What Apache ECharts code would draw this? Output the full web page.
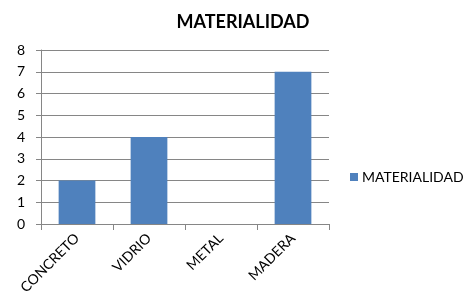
<!DOCTYPE html>
<html><head><meta charset="utf-8">
<script src="https://cdn.jsdelivr.net/npm/echarts@6/dist/echarts.min.js"></script>
<style>html,body{margin:0;padding:0;background:#fff}#c{width:474px;height:308px}</style>
</head><body><div id="c"></div>
<script>
const categories = ["CONCRETO", "VIDRIO", "METAL", "MADERA"];
const values = [2, 4, 0, 7];
const seriesName = "MATERIALIDAD";
const titleText = "MATERIALIDAD";
const yTicks = [0, 1, 2, 3, 4, 5, 6, 7, 8];

const chart = echarts.init(document.getElementById('c'), null, {renderer: 'canvas'});
const font = 'Lato';
chart.setOption({
  animation: false,
  backgroundColor: '#fff',
  title: {
    text: titleText, left: 238, top: 8, textAlign: 'center',
    textStyle: {fontFamily: font, fontWeight: 'bold', fontSize: 18, color: '#000'}
  },
  legend: {
    data: [seriesName], left: 345, top: 165, itemWidth: 8, itemHeight: 8, itemGap: 4,
    icon: 'rect',
    textStyle: {fontFamily: font, fontSize: 14, color: '#000', padding: [0,0,0,-1]}
  },
  grid: {left: 41, top: 50, width: 288, height: 174, containLabel: false},
  xAxis: {
    type: 'category', data: categories,
    axisLine: {lineStyle: {color: '#868686'}},
    axisTick: {show: true, alignWithLabel: false, length: 6, lineStyle: {color: '#868686'}},
    axisLabel: {rotate: 45, fontFamily: font, fontSize: 14, color: '#000', margin: 12, interval: 0}
  },
  yAxis: {
    type: 'value', min: yTicks[0], max: yTicks[yTicks.length - 1], interval: 1,
    axisLine: {show: true, lineStyle: {color: '#868686'}},
    axisTick: {show: true, length: 5, lineStyle: {color: '#868686'}},
    axisLabel: {fontFamily: font, fontSize: 14, color: '#000', margin: 16},
    splitLine: {lineStyle: {color: '#868686'}}
  },
  series: [{
    name: seriesName, type: 'bar', data: values, barWidth: '51%',
    itemStyle: {color: '#4F81BD'}
  }]
});
</script></body></html>
